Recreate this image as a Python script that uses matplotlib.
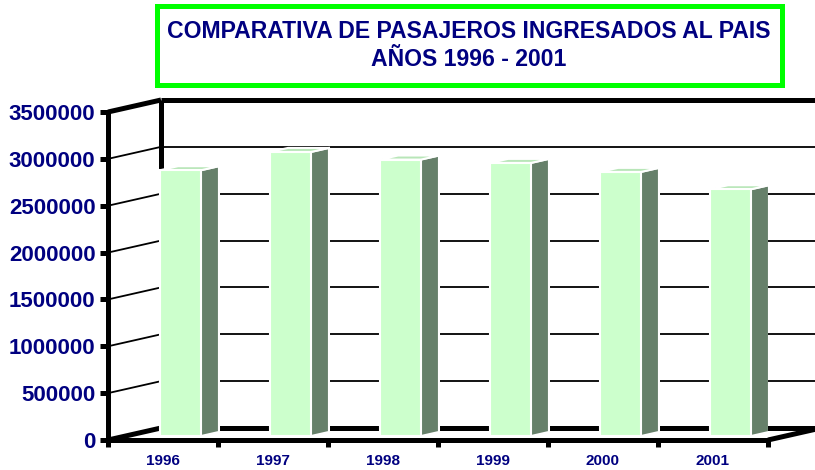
import matplotlib
matplotlib.use('Agg')
import numpy as np
import matplotlib.pyplot as plt
from matplotlib.patches import Polygon, Rectangle

# data
years = ['1996', '1997', '1998', '1999', '2000', '2001']
pasajeros = [2836000, 3031000, 2950000, 2914000, 2818000, 2633000]
yticks = [0, 500000, 1000000, 1500000, 2000000, 2500000, 3000000, 3500000]

navy = '#000080'
front_col = '#CCFFCC'
side_col = '#66806A'
top_col = '#B8E6B8'

plt.rcParams['font.family'] = ['Liberation Sans', 'DejaVu Sans']

fig = plt.figure(figsize=(8.15, 4.70), dpi=100)
ax = fig.add_axes([108/815, 30/470, 660/815, 328/470])
ax.set_xlim(0, 6)
ax.set_ylim(0, 3500000)

# oblique depth vector (one unit of depth) in data units
DX = 53/110.
DY = 12/328. * 3500000

def proj(x, y, d):
    return (x + d*DX, y + d*DY)

# walls / gridlines
xr = 6.6
for v in yticks[1:-1]:
    ax.plot(*zip(proj(0, v, 1), proj(xr, v, 1)), color='black', lw=1.3, zorder=1, clip_on=False)
    ax.plot(*zip(proj(0, v, 0), proj(0, v, 1)), color='black', lw=1.3, zorder=1, clip_on=False)

top = yticks[-1]
thick = dict(color='black', lw=3.6, zorder=2, clip_on=False, solid_capstyle='butt')
ax.plot(*zip(proj(0, top, 0), proj(0, top, 1)), **thick)
ax.plot(*zip(proj(0, top, 1), proj(xr, top, 1)), **thick)
ax.plot(*zip(proj(0, 0, 1), proj(0, top, 1)), **thick)
ax.plot(*zip(proj(0, 0, 1), proj(xr, 0, 1)), **thick)
ax.plot(*zip(proj(0, 0, 0), proj(0, 0, 1)), **thick)
ax.plot(*zip(proj(6, 0, 0), proj(6, 0, 1)), **thick)

# bars
hw = 0.186
d0, d1 = 0.33, 0.67
for i, v in enumerate(pasajeros):
    x0 = i + 0.5 - hw
    x1 = i + 0.5 + hw
    front = [proj(x0, 0, d0), proj(x1, 0, d0), proj(x1, v, d0), proj(x0, v, d0)]
    side = [proj(x1, 0, d0), proj(x1, 0, d1), proj(x1, v, d1), proj(x1, v, d0)]
    topf = [proj(x0, v, d0), proj(x1, v, d0), proj(x1, v, d1), proj(x0, v, d1)]
    for pts, c in ((side, side_col), (topf, top_col), (front, front_col)):
        ax.add_patch(Polygon(pts, closed=True, facecolor=c, edgecolor='white',
                             lw=1.5, zorder=5 + i))

# axes styling
for s in ['top', 'right']:
    ax.spines[s].set_visible(False)
for s in ['left', 'bottom']:
    ax.spines[s].set_linewidth(3.6)
    ax.spines[s].set_zorder(20)
ax.set_facecolor('none')
ax.set_yticks(yticks)
ax.set_yticklabels([str(t) for t in yticks], fontsize=16, fontweight='bold', color=navy)
ax.tick_params(axis='y', length=6, width=3.6, pad=3)
ax.set_xticks(np.arange(0, 7))
ax.set_xticklabels([])
ax.tick_params(axis='x', which='major', length=5, width=3.6)
ax.set_xticks(np.arange(6) + 0.5, minor=True)
ax.set_xticklabels(years, minor=True, fontsize=11, fontweight='bold', color=navy)
ax.tick_params(axis='x', which='minor', length=0, pad=10)

# title box
fig.patches.append(Rectangle((156.5/815, 1 - 85/470), (782-156.5)/815, (85-6.5)/470,
                             transform=fig.transFigure, facecolor='white',
                             edgecolor='#00FF00', lw=3.6))
fig.text(469/815, 1 - 31/470, 'COMPARATIVA DE PASAJEROS INGRESADOS AL PAIS',
         ha='center', va='center', fontsize=16.6, fontweight='bold', color=navy)
fig.text(469/815, 1 - 59/470, 'AÑOS 1996 - 2001',
         ha='center', va='center', fontsize=16.6, fontweight='bold', color=navy)

fig.savefig('out.png', dpi=100)
